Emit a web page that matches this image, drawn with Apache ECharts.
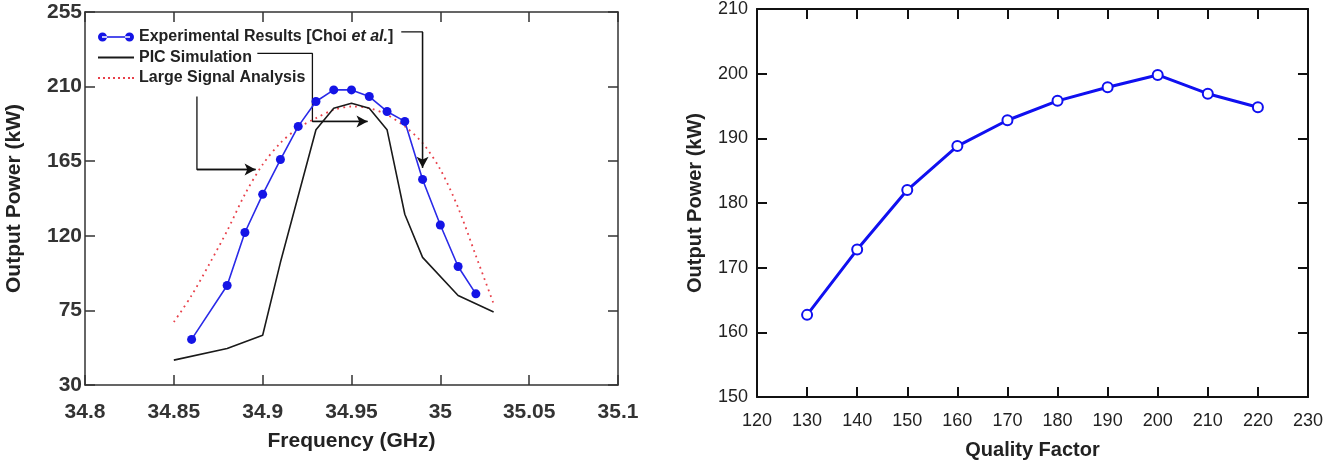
<!DOCTYPE html>
<html>
<head>
<meta charset="utf-8">
<script src="https://cdn.jsdelivr.net/npm/echarts@6/dist/echarts.min.js"></script>
<style>
html, body { margin: 0; padding: 0; background: #fff; }
#chart { width: 1326px; height: 465px; }
</style>
</head>
<body>
<div id="chart"></div>
<script>
// ---- left panel: output power vs frequency ----
var expFreq  = [34.86, 34.88, 34.89, 34.90, 34.91, 34.92, 34.93, 34.94, 34.95, 34.96, 34.97, 34.98, 34.99, 35.00, 35.01, 35.02];
var expPower = [57.5, 90, 122, 145, 166, 186, 201, 208, 208, 204, 195, 189, 154, 126.5, 101.5, 85];

var picFreq  = [34.85, 34.88, 34.90, 34.91, 34.93, 34.94, 34.95, 34.96, 34.97, 34.98, 34.99, 35.01, 35.03];
var picPower = [45, 52, 60, 104, 184, 197, 200, 197, 184, 133, 107, 84, 74];

var lsaFreq  = [34.85, 34.86, 34.87, 34.88, 34.89, 34.90, 34.91, 34.92, 34.93, 34.94, 34.95, 34.96, 34.97, 34.98, 34.99, 35.00, 35.01, 35.02, 35.03];
var lsaPower = [68, 84, 103, 123, 145, 163, 176, 185, 191, 196, 198, 197, 193, 186, 176, 160, 137, 108, 79];

// annotation arrows (data coordinates: GHz, kW)
var arrowExp = [[34.978, 243], [34.99, 243], [34.99, 161]];
var arrowPic = [[34.897, 230], [34.928, 230], [34.928, 189], [34.959, 189]];
var arrowLsa = [[34.863, 204], [34.863, 160], [34.896, 160]];

// ---- right panel: output power vs quality factor ----
var qFactor = [130, 140, 150, 160, 170, 180, 190, 200, 210, 220];
var qPower  = [162.7, 172.8, 182, 188.8, 192.8, 195.8, 197.9, 199.8, 196.9, 194.8];

function zip(xs, ys) {
    return xs.map(function (x, i) { return [x, ys[i]]; });
}

var FONT = '"Liberation Sans", Arial, sans-serif';

function arrowSeries(pts) {
    var n = pts.length;
    return {
        type: 'line',
        xAxisIndex: 0,
        yAxisIndex: 0,
        data: pts,
        symbol: 'none',
        silent: true,
        z: 1,
        lineStyle: { color: '#111', width: 1.3 },
        markLine: {
            silent: true,
            symbol: ['none', 'arrow'],
            symbolSize: [9, 11],
            label: { show: false },
            lineStyle: { color: '#111', width: 1.3, type: 'solid' },
            data: [[{ coord: pts[n - 2] }, { coord: pts[n - 1] }]]
        }
    };
}

function boxAxis(grid, min, max, interval, pos, labelOpt, nameOpt, lw, color) {
    var ax = {
        type: 'value', gridIndex: grid, position: pos,
        min: min, max: max, interval: interval,
        axisLine: { onZero: false, lineStyle: { color: color, width: lw } },
        axisTick: { inside: true, length: 10, lineStyle: { color: color, width: lw } },
        splitLine: { show: false },
        axisLabel: labelOpt || { show: false }
    };
    if (nameOpt) {
        for (var k in nameOpt) ax[k] = nameOpt[k];
    }
    return ax;
}

var chart = echarts.init(document.getElementById('chart'));

var option = {
    animation: false,
    backgroundColor: '#fff',
    grid: [
        { left: 85, top: 12, width: 533, height: 373 },
        { left: 757, top: 6, width: 553, height: 396 }
    ],
    legend: {
        data: [
            { name: 'Experimental Results [Choi et al.]',
              icon: 'path://M0,4.5a4.5,4.5 0 1,0 9,0a4.5,4.5 0 1,0 -9,0zM4,3.7h28v1.6h-28zM27,4.5a4.5,4.5 0 1,0 9,0a4.5,4.5 0 1,0 -9,0z',
              itemStyle: { color: '#1414e6', borderColor: '#1414e6', borderWidth: 0 } },
            { name: 'PIC Simulation', icon: 'path://M0,0h36v1.8h-36z' },
            { name: 'Large Signal Analysis',
              icon: 'path://M0,0h2v2h-2zM5,0h2v2h-2zM10,0h2v2h-2zM15,0h2v2h-2zM20,0h2v2h-2zM25,0h2v2h-2zM30,0h2v2h-2zM34,0h2v2h-2z' }
        ],
        orient: 'vertical',
        left: 93,
        top: 24,
        itemWidth: 36,
        itemHeight: 14,
        itemGap: 4.5,
        selectedMode: false,
        formatter: function (name) {
            if (name.indexOf('Experimental') === 0) {
                return '{n|Experimental Results [Choi }{i|et al.}{n|]}';
            }
            return '{n|' + name + '}';
        },
        textStyle: {
            color: '#222',
            rich: {
                n: { fontFamily: FONT, fontWeight: 'bold', fontSize: 16, lineHeight: 18, color: '#222' },
                i: { fontFamily: FONT, fontWeight: 'bold', fontStyle: 'italic', fontSize: 16, lineHeight: 18, color: '#222' }
            }
        }
    },
    xAxis: [
        boxAxis(0, 34.8, 35.1, 0.05, 'bottom',
            { show: true, margin: 17, color: '#333', fontFamily: FONT, fontWeight: 'bold', fontSize: 21 },
            { name: 'Frequency (GHz)', nameLocation: 'middle', nameGap: 46,
              nameTextStyle: { color: '#222', fontFamily: FONT, fontWeight: 'bold', fontSize: 21 } },
            1.5, '#333'),
        boxAxis(0, 34.8, 35.1, 0.05, 'top', null, null, 1.5, '#333'),
        boxAxis(1, 120, 230, 10, 'bottom',
            { show: true, margin: 15, color: '#222', fontFamily: FONT, fontSize: 18 },
            { name: 'Quality Factor', nameLocation: 'middle', nameGap: 43,
              nameTextStyle: { color: '#222', fontFamily: FONT, fontWeight: 'bold', fontSize: 20 } },
            2, '#111'),
        boxAxis(1, 120, 230, 10, 'top', null, null, 2, '#111')
    ],
    yAxis: [
        boxAxis(0, 30, 255, 45, 'left',
            { show: true, margin: 3, color: '#333', fontFamily: FONT, fontWeight: 'bold', fontSize: 21 },
            { name: 'Output Power (kW)', nameLocation: 'middle', nameRotate: 90, nameGap: 60,
              nameTextStyle: { color: '#222', fontFamily: FONT, fontWeight: 'bold', fontSize: 21 } },
            1.5, '#333'),
        boxAxis(0, 30, 255, 45, 'right', null, null, 1.5, '#333'),
        boxAxis(1, 150, 210, 10, 'left',
            { show: true, margin: 9, color: '#222', fontFamily: FONT, fontSize: 18 },
            { name: 'Output Power (kW)', nameLocation: 'middle', nameRotate: 90, nameGap: 52,
              nameTextStyle: { color: '#222', fontFamily: FONT, fontWeight: 'bold', fontSize: 20 } },
            2, '#111'),
        boxAxis(1, 150, 210, 10, 'right', null, null, 2, '#111')
    ],
    series: [
        {
            name: 'Experimental Results [Choi et al.]',
            type: 'line',
            xAxisIndex: 0, yAxisIndex: 0,
            data: zip(expFreq, expPower),
            symbol: 'circle',
            symbolSize: 9,
            color: '#1414e6',
            lineStyle: { color: '#2a2ae8', width: 1.6 },
            z: 4
        },
        {
            name: 'PIC Simulation',
            type: 'line',
            xAxisIndex: 0, yAxisIndex: 0,
            data: zip(picFreq, picPower),
            symbol: 'none',
            color: '#1a1a1a',
            lineStyle: { color: '#1a1a1a', width: 1.6 },
            z: 3
        },
        {
            name: 'Large Signal Analysis',
            type: 'line',
            xAxisIndex: 0, yAxisIndex: 0,
            data: zip(lsaFreq, lsaPower),
            symbol: 'none',
            smooth: 0.3,
            color: '#e8404a',
            lineStyle: { color: '#e8404a', width: 1.8, type: [1.8, 4.2] },
            z: 2
        },
        arrowSeries(arrowExp),
        arrowSeries(arrowPic),
        arrowSeries(arrowLsa),
        {
            name: 'Quality',
            type: 'line',
            xAxisIndex: 2, yAxisIndex: 2,
            data: zip(qFactor, qPower),
            symbol: 'emptyCircle',
            symbolSize: 10,
            color: '#1010f0',
            itemStyle: { color: '#1010f0', borderColor: '#1010f0', borderWidth: 2.5 },
            lineStyle: { color: '#1010f0', width: 3 }
        }
    ]
};

chart.setOption(option);
window.addEventListener('resize', function () {
    chart.resize();
});
</script>
</body>
</html>
